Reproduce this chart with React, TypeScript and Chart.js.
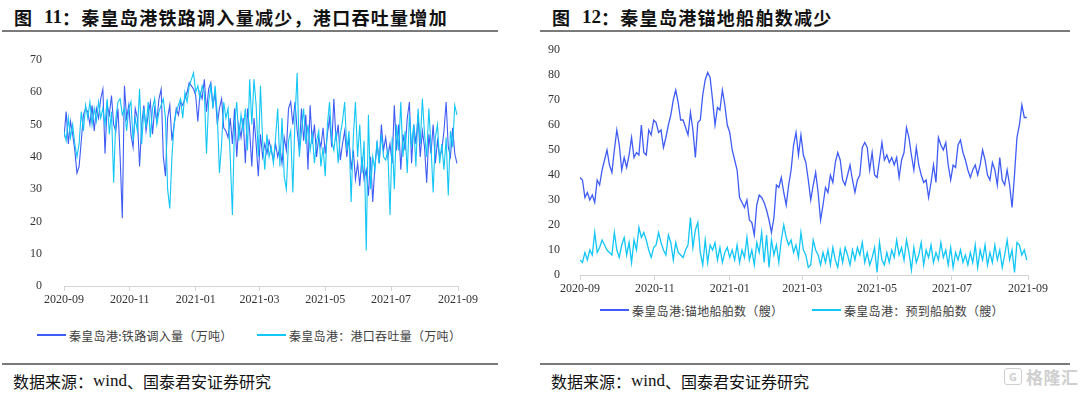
import React, { useEffect, useRef } from "react";
import { Chart, registerables } from "chart.js";

Chart.register(...registerables);

// ---------- data ----------
// x positions: days since 2020-09-01, one value every STEP_DAYS days
const STEP_DAYS = 2;
const xTickDays = [0, 61, 122, 181, 242, 303, 365];
const xTickLabels = ["2020-09", "2020-11", "2021-01", "2021-03", "2021-05", "2021-07", "2021-09"];

// 图11: 秦皇岛港 铁路调入量 (万吨)
const railInflow = [
  46, 54, 44, 51, 47, 42, 35, 37, 45, 53, 55, 54, 50, 56, 48,
  55, 52, 58, 61, 41, 56, 53, 59, 50, 48, 55, 40, 21, 62, 52, 56,
  47, 43, 55, 52, 37, 50, 56, 48, 53, 57, 47, 55, 51, 58, 61,
  40, 34, 52, 56, 45, 50, 55, 53, 57, 56, 58, 60, 63, 62, 61,
  59, 51, 60, 58, 64, 54, 61, 63, 56, 60, 50, 55, 58, 49, 48,
  46, 52, 44, 55, 40, 50, 46, 52, 38, 55, 48, 37, 52, 44, 34,
  47, 40, 44, 41, 45, 42, 39, 44, 40, 43, 38, 46, 42, 55, 57,
  50, 57, 48, 42, 55, 45, 53, 36, 56, 44, 50, 40, 46, 43, 49,
  41, 47, 52, 43, 58, 45, 50, 39, 44, 48, 40, 46, 36, 42, 33, 38,
  31, 40, 33, 36, 28, 40, 26, 37, 44, 38, 50, 42, 46, 40, 44,
  38, 56, 42, 50, 36, 47, 42, 52, 57, 38, 50, 44, 53, 40, 48,
  43, 32, 47, 41, 50, 38, 45, 40, 42, 48, 57, 43, 40, 49, 41, 38,
];

// 图11: 秦皇岛港 港口吞吐量 (万吨)
const portThroughput = [
  48, 45, 52, 46, 50, 44, 40, 44, 54, 48, 56, 52, 57, 50, 55,
  51, 57, 52, 55, 50, 58, 47, 54, 32, 52, 57, 58, 53, 55, 48, 55,
  57, 45, 52, 48, 61, 44, 55, 49, 57, 46, 55, 58, 50, 54, 56,
  58, 52, 30, 24, 40, 50, 54, 56, 58, 52, 60, 57, 62, 64, 66,
  60, 62, 58, 62, 60, 41, 57, 62, 55, 62, 53, 35, 44, 57, 52,
  55, 40, 22, 50, 57, 45, 53, 48, 55, 42, 64, 50, 64, 56, 40,
  62, 45, 36, 47, 40, 43, 38, 46, 55, 37, 52, 34, 30, 45, 48,
  29, 52, 66, 40, 48, 55, 44, 50, 42, 47, 38, 45, 48, 37, 43,
  34, 50, 57, 45, 42, 48, 38, 47, 51, 57, 42, 48, 26, 46, 57, 40,
  50, 35, 45, 11, 53, 30, 40, 36, 45, 38, 47, 40, 39, 42, 22,
  46, 30, 50, 42, 57, 40, 48, 35, 53, 43, 50, 37, 55, 44, 58,
  47, 40, 55, 43, 29, 46, 50, 38, 44, 36, 46, 28, 48, 43, 56, 53,
];

// 图12: 秦皇岛港 锚地船舶数 (艘)
const anchoredShips = [
  39, 38, 31, 33, 30, 32, 29, 38, 36, 42, 46, 50, 44, 41, 50,
  58, 52, 42, 47, 43, 48, 55, 47, 49, 48, 60, 49, 48, 58, 56, 62,
  61, 57, 58, 51, 55, 60, 64, 70, 74, 69, 62, 62, 59, 56, 65,
  58, 47, 61, 62, 72, 78, 81, 79, 70, 60, 67, 66, 74, 68, 60,
  57, 50, 46, 42, 31, 29, 27, 30, 22, 21, 16, 28, 32, 31, 29,
  26, 22, 17, 23, 36, 35, 39, 33, 28, 36, 42, 52, 57, 48, 56,
  48, 45, 38, 30, 36, 41, 33, 22, 28, 35, 33, 40, 37, 45, 49,
  46, 38, 36, 40, 44, 38, 33, 38, 40, 51, 53, 51, 42, 49, 40,
  39, 46, 53, 46, 48, 45, 47, 44, 47, 39, 46, 49, 59, 55, 48, 42,
  51, 44, 40, 37, 38, 31, 37, 44, 37, 55, 52, 50, 53, 44, 38,
  44, 43, 52, 54, 49, 46, 42, 39, 42, 44, 40, 44, 50, 46, 40,
  38, 45, 42, 36, 47, 38, 36, 42, 36, 27, 40, 55, 60, 68, 63, 63,
];

// 图12: 秦皇岛港 预到船舶数 (艘)
const expectedShips = [
  6, 5, 9, 6, 10, 8, 17, 9, 11, 14, 12, 10, 9, 8, 17,
  10, 7, 12, 15, 8, 13, 5, 14, 10, 19, 15, 17, 14, 10, 7, 11,
  12, 17, 13, 10, 8, 16, 13, 6, 13, 9, 8, 7, 10, 12, 23,
  11, 18, 21, 9, 4, 14, 5, 12, 10, 13, 6, 11, 5, 9, 11,
  7, 10, 6, 12, 5, 10, 7, 15, 6, 10, 4, 13, 9, 17, 5,
  16, 3, 14, 8, 12, 5, 14, 20, 15, 12, 14, 9, 12, 7, 17,
  10, 8, 3, 4, 14, 10, 8, 4, 9, 5, 10, 4, 11, 6, 3,
  10, 5, 11, 8, 4, 10, 6, 11, 8, 13, 5, 9, 4, 7, 11,
  1, 13, 6, 4, 9, 5, 10, 7, 14, 8, 11, 6, 14, 9, 2, 11,
  5, 8, 13, 4, 10, 7, 12, 5, 9, 6, 13, 7, 10, 4, 11,
  3, 9, 6, 10, 5, 8, 4, 9, 5, 12, 3, 10, 6, 12, 4,
  9, 5, 12, 6, 10, 3, 8, 14, 6, 10, 1, 13, 12, 8, 10, 6,
];

const leftYTicks = [0, 10, 20, 30, 40, 50, 60, 70];
const rightYTicks = [0, 10, 20, 30, 40, 50, 60, 70, 80, 90];

const BLUE = "#3f5cf6";
const CYAN = "#12c6f6";
const TICK_FONT = "'Liberation Serif', 'Times New Roman', serif";

const toPoints = (arr: number[]) => arr.map((v, i) => ({ x: i * STEP_DAYS, y: v }));

type ChartSpec = {
  series: { label: string; data: number[]; color: string; order: number }[];
  yTicks: number[];
  yAxisWidth: number;
  yTickPadding: number;
  padding: { top: number; right: number; bottom: number; left: number };
  lineWidth: number;
};

function LineChart({ spec, style }: { spec: ChartSpec; style: React.CSSProperties }) {
  const ref = useRef<HTMLCanvasElement | null>(null);
  useEffect(() => {
    if (!ref.current) return;
    const yMin = spec.yTicks[0];
    const yMax = spec.yTicks[spec.yTicks.length - 1];
    const chart = new Chart(ref.current, {
      type: "line",
      data: {
        datasets: spec.series.map((s) => ({
          label: s.label,
          data: toPoints(s.data),
          borderColor: s.color,
          backgroundColor: s.color,
          borderWidth: spec.lineWidth,
          pointRadius: 0,
          tension: 0,
          order: s.order,
        })),
      },
      options: {
        animation: false,
        responsive: false,
        maintainAspectRatio: false,
        layout: { padding: spec.padding },
        plugins: { legend: { display: false }, tooltip: { enabled: false } },
        scales: {
          x: {
            type: "linear",
            min: xTickDays[0],
            max: xTickDays[xTickDays.length - 1],
            afterBuildTicks: (axis: any) => {
              axis.ticks = xTickDays.map((v) => ({ value: v }));
            },
            afterFit: (axis: any) => {
              axis.height = 24;
            },
            ticks: {
              autoSkip: false,
              maxRotation: 0,
              padding: 2,
              color: "#333333",
              font: { family: TICK_FONT, size: 12 },
              callback: (v: any) => {
                const i = xTickDays.indexOf(Number(v));
                return i >= 0 ? xTickLabels[i] : "";
              },
            },
            grid: { display: true, drawOnChartArea: false, drawTicks: true, tickLength: 5, color: "#d4d4d4" },
            border: { display: true, color: "#d4d4d4", width: 1 },
          },
          y: {
            min: yMin,
            max: yMax,
            afterBuildTicks: (axis: any) => {
              axis.ticks = spec.yTicks.map((v) => ({ value: v }));
            },
            afterFit: (axis: any) => {
              axis.width = spec.yAxisWidth;
            },
            ticks: {
              padding: spec.yTickPadding,
              color: "#333333",
              font: { family: TICK_FONT, size: 12 },
            },
            grid: { display: false },
            border: { display: false },
          },
        },
      },
    });
    return () => chart.destroy();
  }, []);
  return <canvas ref={ref} width={style.width as number} height={style.height as number} style={{ position: "absolute", ...style }} />;
}

function Legend({ x, y, color, text, textWidth }: { x: number; y: number; color: string; text: string; textWidth: number }) {
  return (
    <div style={{ position: "absolute", left: x, top: y - 9, height: 18, display: "flex", alignItems: "center", whiteSpace: "nowrap" }}>
      <div style={{ width: 29, height: 1.6, background: color, marginRight: 3 }} />
      <span style={{ fontFamily: "'Noto Sans CJK SC', sans-serif", fontSize: 12, color: "#404040", letterSpacing: 0.3, display: "inline-block", width: textWidth }}>{text}</span>
    </div>
  );
}

function Title({ x, num, text }: { x: number; num: string; text: string }) {
  return (
    <div style={{ position: "absolute", left: x, top: 4, height: 26, display: "flex", alignItems: "center", whiteSpace: "nowrap", color: "#111" }}>
      <span style={{ fontFamily: "'Noto Sans CJK SC', sans-serif", fontWeight: 700, fontSize: 18 }}>图</span>
      <span style={{ fontFamily: TICK_FONT, fontWeight: 700, fontSize: 19, marginLeft: 12 }}>{num}</span>
      <span style={{ fontFamily: "'Noto Sans CJK SC', sans-serif", fontWeight: 700, fontSize: 18, letterSpacing: 1.3 }}>{"：" + text}</span>
    </div>
  );
}

function Source({ x }: { x: number }) {
  return (
    <div style={{ position: "absolute", left: x, top: 370, height: 22, display: "flex", alignItems: "center", whiteSpace: "nowrap", fontSize: 16, color: "#111" }}>
      <span style={{ fontFamily: "'Noto Sans CJK SC', sans-serif" }}>数据来源：</span>
      <span style={{ fontFamily: TICK_FONT, fontSize: 17 }}>wind</span>
      <span style={{ fontFamily: "'Noto Sans CJK SC', sans-serif" }}>、国泰君安证券研究</span>
    </div>
  );
}

export default function App() {
  const leftSpec: ChartSpec = {
    series: [
      { label: "秦皇岛港:铁路调入量（万吨）", data: railInflow, color: BLUE, order: 1 },
      { label: "秦皇岛港：港口吞吐量（万吨）", data: portThroughput, color: CYAN, order: 0 },
    ],
    yTicks: leftYTicks,
    yAxisWidth: 64,
    yTickPadding: 14,
    padding: { top: 60, right: 62, bottom: 10, left: 0 },
    lineWidth: 1.1,
  };
  const rightSpec: ChartSpec = {
    series: [
      { label: "秦皇岛港:锚地船舶数（艘）", data: anchoredShips, color: BLUE, order: 0 },
      { label: "秦皇岛港：预到船舶数（艘）", data: expectedShips, color: CYAN, order: 1 },
    ],
    yTicks: rightYTicks,
    yAxisWidth: 40,
    yTickPadding: 12,
    padding: { top: 50, right: 52, bottom: 1, left: 0 },
    lineWidth: 1.3,
  };
  return (
    <div style={{ position: "absolute", left: 0, top: 0, width: 1080, height: 397, background: "#fff", overflow: "hidden" }}>
      <Title x={14} num="11" text="秦皇岛港铁路调入量减少，港口吞吐量增加" />
      <Title x={552} num="12" text="秦皇岛港锚地船舶数减少" />
      <div style={{ position: "absolute", left: 2, top: 30, width: 496, height: 1.5, background: "#7a7a7a" }} />
      <div style={{ position: "absolute", left: 540, top: 30, width: 530, height: 1.5, background: "#7a7a7a" }} />

      <LineChart spec={leftSpec} style={{ left: 0, top: 0, width: 520, height: 320 }} />
      <LineChart spec={rightSpec} style={{ left: 540, top: 0, width: 540, height: 300 }} />

      <Legend x={37} y={335} color={BLUE} text="秦皇岛港:铁路调入量（万吨）" textWidth={170} />
      <Legend x={257} y={335} color={CYAN} text="秦皇岛港：港口吞吐量（万吨）" textWidth={180} />
      <Legend x={600} y={310} color={BLUE} text="秦皇岛港:锚地船舶数（艘）" textWidth={160} />
      <Legend x={812} y={310} color={CYAN} text="秦皇岛港：预到船舶数（艘）" textWidth={165} />

      <div style={{ position: "absolute", left: 2, top: 363, width: 496, height: 1.5, background: "#7a7a7a" }} />
      <div style={{ position: "absolute", left: 540, top: 363, width: 530, height: 1.5, background: "#7a7a7a" }} />
      <Source x={13} />
      <Source x={551} />

      <div style={{ position: "absolute", left: 1004, top: 366, height: 20, display: "flex", alignItems: "center", gap: 4, color: "#cfcfcf" }}>
        <div style={{ width: 16, height: 15, border: "1.5px solid #cfcfcf", borderRadius: 3, fontFamily: "'Noto Sans', sans-serif", fontSize: 11, fontWeight: 700, lineHeight: "15px", textAlign: "center" }}>G</div>
        <span style={{ fontFamily: "'Noto Sans CJK SC', sans-serif", fontSize: 17, fontWeight: 700, letterSpacing: 0.5 }}>格隆汇</span>
      </div>
    </div>
  );
}
